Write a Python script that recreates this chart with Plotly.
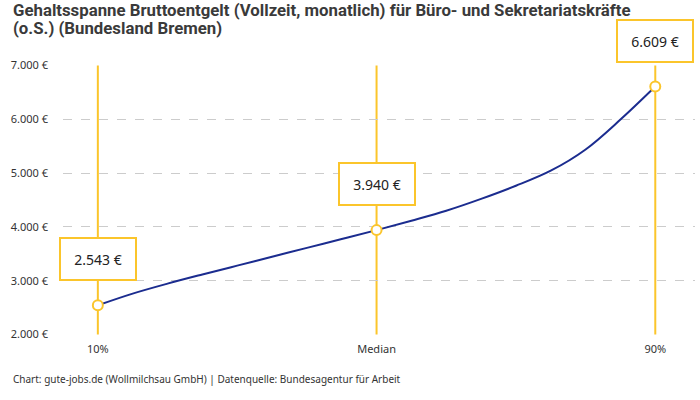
import plotly.graph_objects as go

# Salary curve (percentile -> monthly gross in EUR)
percentiles = [10, 15, 20, 25, 30, 35, 40, 45, 50, 55, 60, 65, 70, 75, 80, 85, 90]
salaries = [2543, 2760, 2945, 3115, 3280, 3445, 3610, 3775, 3940,
            4115, 4300, 4520, 4765, 5045, 5440, 5995, 6609]

# Highlighted points
key_percentiles = [10, 50, 90]
key_salaries = [2543, 3940, 6609]
key_labels = ['10%', 'Median', '90%']

y_ticks = [2000, 3000, 4000, 5000, 6000, 7000]

title_lines = [
    'Gehaltsspanne Bruttoentgelt (Vollzeit, monatlich) für Büro- und Sekretariatskräfte',
    '(o.S.) (Bundesland Bremen)',
]
source_text = 'Chart: gute-jobs.de (Wollmilchsau GmbH) | Datenquelle: Bundesagentur für Arbeit'


def euro(v):
    # German number format: 6.609 €
    return f'{v:,}'.replace(',', '.') + ' €'


colors = {
    'line': '#1b2c8f',
    'yellow': '#fbc52b',
    'text': '#333333',
    'grid': '#cccccc',
}

fig = go.Figure()

# Vertical marker lines at 10%, Median and 90%
for p in key_percentiles:
    fig.add_shape(
        type='line', xref='x', yref='y',
        x0=p, x1=p, y0=y_ticks[0], y1=y_ticks[-1],
        line={'color': colors['yellow'], 'width': 2},
        layer='below',
    )

# Salary curve
fig.add_trace(go.Scatter(
    x=percentiles,
    y=salaries,
    mode='lines',
    line={'color': colors['line'], 'width': 2, 'shape': 'spline', 'smoothing': 1.0},
    hoverinfo='skip',
    showlegend=False,
))

# Key points
fig.add_trace(go.Scatter(
    x=key_percentiles,
    y=key_salaries,
    mode='markers',
    marker={'size': 10, 'color': 'white', 'line': {'color': colors['yellow'], 'width': 2}},
    showlegend=False,
))

# Value boxes above the key points
for p, v in zip(key_percentiles, key_salaries):
    fig.add_annotation(
        x=p, y=v, xref='x', yref='y',
        text=euro(v),
        showarrow=False,
        yshift=46,
        width=72, height=38,
        bgcolor='white',
        bordercolor=colors['yellow'],
        borderwidth=2,
        font={'family': 'Noto Sans', 'size': 14, 'color': '#222222'},
    )

# Title, one annotation per line
for i, line in enumerate(title_lines):
    fig.add_annotation(
        text=line,
        xref='paper', yref='paper',
        x=-0.083, y=1.25 - i * 0.068, xanchor='left', yanchor='top',
        showarrow=False,
        font={'family': 'Liberation Sans Narrow, Roboto', 'size': 16.8, 'color': '#3a3a3a', 'weight': 'bold'},
    )

# Source line
fig.add_annotation(
    text=source_text,
    xref='paper', yref='paper',
    x=-0.083, y=-0.13, xanchor='left', yanchor='top',
    showarrow=False,
    font={'family': 'Noto Sans', 'size': 10, 'color': colors['text']},
)

fig.update_layout(
    width=700, height=400,
    margin={'l': 63, 'r': 5, 't': 65, 'b': 65},
    paper_bgcolor='white',
    plot_bgcolor='white',
    font={'family': 'Noto Sans', 'size': 11, 'color': colors['text']},
    xaxis={
        'range': [5, 95.7],
        'tickmode': 'array',
        'tickvals': key_percentiles,
        'ticktext': key_labels,
        'showgrid': False,
        'zeroline': False,
        'showline': False,
        'ticks': '',
        'ticklabelstandoff': 6,
        'automargin': False,
        'fixedrange': True,
    },
    yaxis={
        'range': [1990, 7010],
        'tickmode': 'array',
        'tickvals': y_ticks,
        'ticktext': [euro(v) for v in y_ticks],
        'showgrid': True,
        'gridcolor': colors['grid'],
        'griddash': 'dash',
        'gridwidth': 1,
        'zeroline': False,
        'showline': False,
        'ticks': '',
        'ticklabelstandoff': 14,
        'automargin': False,
        'fixedrange': True,
    },
)

# drop the default body margin so the 700x400 figure fills the window
fig.write_html(
    'out.html',
    config={'displayModeBar': False},
    post_script="document.body.style.margin = '0';",
)
